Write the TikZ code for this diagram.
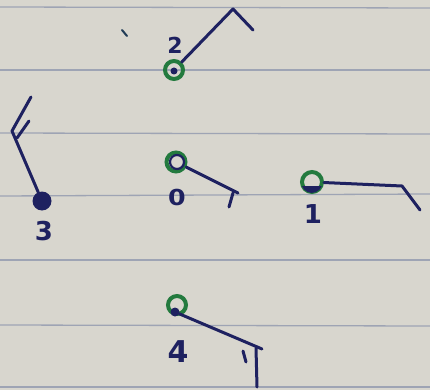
\documentclass[tikz,border=0pt]{standalone}
\usepackage{fontspec}
\setsansfont{DejaVu Sans}
\definecolor{paper}{HTML}{D8D6CE}
\definecolor{rule}{HTML}{9EA4B4}
\definecolor{ink}{HTML}{1E2160}
\definecolor{pen}{HTML}{237A3E}
\tikzset{
  barb/.style={ink, line width=3pt, line cap=round, line join=round},
  ringst/.style={circle, draw=pen, line width=4pt, minimum size=18pt, inner sep=0pt},
  dotst/.style={circle, fill=ink, minimum size=9pt, inner sep=0pt},
  lbl/.style={ink, font=\sffamily\bfseries\fontsize{26}{26}\selectfont, inner sep=0pt},
  ruleline/.style={rule, line width=1.3pt}
}
\begin{document}
\begin{tikzpicture}[x=1pt,y=-1pt]
\fill[paper] (0,0) rectangle (430,390);
\useasboundingbox (0,0) rectangle (430,390);
% ruled lines
\foreach \yy/\dd in {7/1, 70/0, 133/1, 196/-2, 260/0, 325/1, 387/0}
  \draw[ruleline] (0,\yy) -- (430,\yy+\dd);
% faint smudge mark
\draw[ink!70!pen, line width=2pt, line cap=round] (122,30) -- (127,36);
% station 2
\node[ringst] (s2) at (174,70) {};
\node[dotst, minimum size=7pt] (d2) at (174,71) {};
\node[lbl, font=\sffamily\bfseries\fontsize{22}{22}\selectfont] (l2) at (175,45) {2};
\coordinate (t2) at (233,9);
\coordinate (b2) at (253,30);
\draw[barb] (s2) -- (t2) -- (b2);
% station 3
\node[dotst, minimum size=19pt] (s3) at (42,201) {};
\node[lbl] (l3) at (44,231) {3};
\coordinate (t3) at (12,131);
\coordinate (e3) at (31,97);
\coordinate (f3a) at (17,138);
\coordinate (f3b) at (29,121);
\draw[barb] (s3) -- (t3) -- (e3);
\draw[barb] (f3a) -- (f3b);
% station 0
\node[ringst, minimum size=19pt] (s0) at (176,162) {};
\draw[ink, line width=2.2pt] (177,162) circle (7pt);
\node[lbl, font=\sffamily\bfseries\fontsize{22}{22}\selectfont, xscale=1.15] (l0) at (177,197) {0};
\coordinate (t0) at (238,193);
\coordinate (b0) at (229,207);
\coordinate (a0) at (233,193);
\draw[barb] (s0) -- (t0);
\draw[barb] (a0) -- (b0);
% station 1
\node[ringst, minimum size=20pt] (s1) at (312,182) {};
\fill[ink] (302,186) arc[start angle=200, end angle=340, radius=10.5pt] -- cycle;
\node[lbl] (l1) at (313,214) {1};
\coordinate (t1) at (402,186);
\coordinate (b1) at (420,210);
\draw[barb] (s1) -- (t1) -- (b1);
% station 4
\node[ringst, minimum size=18pt] (s4) at (177,305) {};
\node[dotst, minimum size=9pt] (d4) at (175,312) {};
\node[lbl, font=\sffamily\bfseries\fontsize{30}{30}\selectfont] (l4) at (178,352) {4};
\coordinate (t4) at (262,349);
\coordinate (v4a) at (256,348);
\coordinate (v4b) at (257,387);
\coordinate (h4a) at (243,351);
\coordinate (h4b) at (246,362);
\draw[barb] (d4) -- (t4);
\draw[barb] (v4a) -- (v4b);
\draw[barb] (h4a) -- (h4b);
\end{tikzpicture}
\end{document}
